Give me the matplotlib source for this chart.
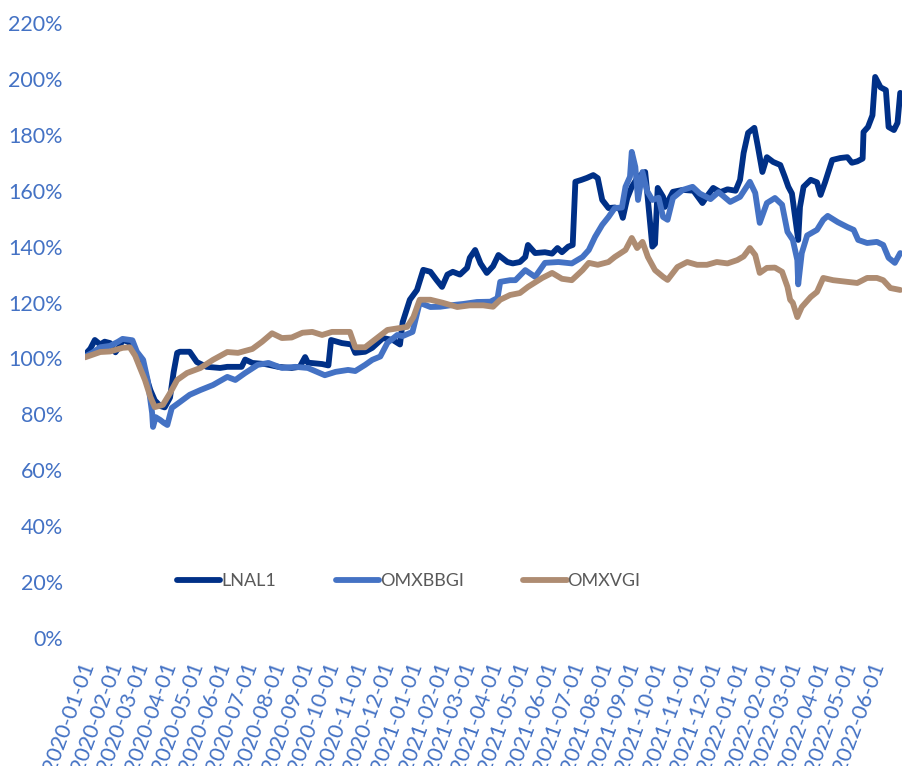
import numpy as np
import pandas as pd
import matplotlib
matplotlib.use("Agg")
import matplotlib.pyplot as plt
import matplotlib.ticker as mticker
import matplotlib.transforms as mtransforms

plt.rcParams['font.family'] = ['Lato', 'DejaVu Sans']

# Index level (start = 100%), day = days since 2020-01-01
lnal1_day = [0, 6, 11, 17, 22, 28, 34, 39, 42, 48, 54, 59, 67, 73, 78, 84, 89, 95, 99, 103,
             106, 117, 125, 136, 151, 159, 168, 175, 179, 187, 201, 216, 231, 240, 246, 249,
             265, 272, 275, 287, 298, 302, 313, 321, 333, 344, 352, 355, 363, 371, 378, 386,
             393, 399, 405, 411, 419, 427, 430, 436, 442, 449, 456, 462, 472, 478, 486, 492,
             495, 503, 514, 522, 528, 533, 540, 545, 548, 555, 561, 568, 573, 578, 585, 592,
             598, 601, 606, 611, 618, 626, 628, 632, 634, 637, 640, 646, 648, 657, 668, 680,
             690, 695, 702, 710, 718, 727, 732, 736, 741, 748, 752, 757, 762, 769, 777, 782,
             786, 790, 793, 797, 799, 803, 811, 818, 822, 827, 835, 844, 852, 857, 863, 869,
             870, 875, 880, 883, 889, 895, 898, 904, 908, 911]
lnal1 = [101.4, 103.5, 106.6, 105.0, 106.0, 105.5, 102.2, 104.5, 106.6, 106.0, 104.0, 99.5,
         95.0, 88.7, 85.0, 83.0, 82.5, 86.0, 95.0, 102.0, 102.4, 102.4, 98.7, 97.0, 96.6,
         97.0, 97.0, 97.0, 99.6, 98.4, 98.0, 97.0, 96.6, 97.0, 100.5, 98.5, 98.0, 97.5,
         106.6, 105.5, 105.0, 102.0, 102.4, 103.8, 107.3, 106.6, 105.0, 113.0, 121.0, 124.5,
         131.7, 131.0, 128.0, 125.6, 130.0, 131.0, 130.0, 132.4, 136.0, 138.8, 134.0, 130.6,
         133.0, 137.0, 134.5, 134.0, 134.5, 136.3, 140.6, 137.7, 138.0, 137.5, 139.5, 138.0,
         140.0, 140.6, 163.2, 163.9, 164.6, 165.6, 164.5, 156.7, 153.8, 154.0, 153.5, 150.3,
         157.4, 161.4, 165.0, 166.7, 160.3, 147.0, 140.0, 141.0, 161.0, 157.8, 154.2, 159.6,
         160.3, 160.0, 155.6, 158.0, 161.0, 159.5, 160.5, 160.0, 163.9, 173.5, 180.7, 182.5,
         175.7, 166.7, 172.0, 170.3, 169.2, 165.0, 161.4, 159.0, 152.0, 142.4, 154.2, 161.4,
         163.9, 163.0, 158.5, 163.0, 171.0, 171.7, 172.0, 170.0, 170.5, 171.5, 181.0, 182.8,
         187.0, 200.7, 197.0, 196.0, 182.8, 181.7, 184.3, 195.0]

omxbbgi_day = [0, 8, 17, 28, 37, 42, 53, 58, 65, 70, 75, 76, 79, 84, 88, 92, 97, 106, 117,
               129, 143, 159, 168, 179, 193, 205, 220, 235, 249, 268, 280, 294, 302, 313,
               321, 330, 338, 349, 355, 366, 374, 386, 397, 408, 423, 438, 453, 461, 464,
               475, 481, 492, 503, 514, 529, 544, 556, 563, 570, 578, 585, 592, 600, 604,
               609, 611, 615, 618, 623, 628, 634, 641, 646, 651, 657, 668, 679, 687, 699,
               708, 721, 732, 743, 749, 754, 762, 771, 779, 785, 791, 796, 797, 801, 807,
               818, 825, 830, 841, 852, 859, 864, 874, 885, 892, 898, 905, 911]
omxbbgi = [100.7, 102.0, 104.0, 104.5, 106.0, 107.0, 106.5, 102.4, 99.5, 92.3, 80.5, 75.5,
           79.0, 78.0, 77.0, 76.2, 82.3, 84.4, 87.0, 88.7, 90.5, 93.4, 92.3, 94.8, 97.7,
           98.4, 96.6, 97.0, 96.6, 94.0, 95.2, 95.9, 95.5, 97.7, 99.5, 100.7, 105.6, 108.4,
           108.0, 109.5, 119.9, 118.4, 118.5, 119.0, 119.5, 120.2, 120.3, 121.6, 127.4,
           128.0, 128.0, 131.6, 129.2, 134.2, 134.5, 134.0, 136.3, 138.8, 143.5, 147.8,
           150.6, 153.8, 154.0, 161.4, 165.0, 173.9, 168.5, 156.7, 166.7, 160.0, 156.7,
           157.5, 150.6, 149.6, 157.4, 160.3, 161.4, 159.0, 157.0, 159.5, 156.0, 157.8,
           163.2, 159.2, 148.5, 155.6, 157.4, 155.0, 145.3, 142.4, 135.2, 126.5, 137.7,
           144.0, 146.0, 149.6, 151.0, 148.8, 147.0, 146.0, 142.4, 141.3, 141.7, 140.6,
           136.0, 134.2, 137.7]

omxvgi_day = [0, 17, 28, 42, 50, 56, 61, 67, 73, 78, 87, 95, 103, 114, 129, 143, 159, 171,
              187, 198, 209, 220, 231, 243, 254, 265, 276, 287, 296, 302, 313, 321, 338,
              360, 367, 374, 386, 400, 416, 430, 445, 456, 464, 475, 486, 495, 511, 522,
              533, 544, 556, 563, 573, 585, 592, 604, 611, 617, 623, 629, 637, 646, 651,
              662, 673, 684, 695, 706, 718, 729, 736, 743, 749, 754, 762, 771, 779, 785,
              788, 791, 796, 801, 811, 818, 825, 836, 852, 863, 874, 885, 892, 900, 911]
omxvgi = [100.4, 102.3, 102.5, 103.8, 104.0, 101.0, 97.0, 92.3, 86.3, 82.6, 83.4, 87.6,
          92.3, 94.8, 96.6, 99.5, 102.3, 102.0, 103.4, 106.0, 109.0, 107.3, 107.5, 109.2,
          109.5, 108.4, 109.5, 109.5, 109.5, 104.0, 104.0, 106.0, 110.2, 111.3, 114.8,
          121.0, 121.0, 119.9, 118.4, 119.0, 119.0, 118.5, 121.0, 122.7, 123.4, 125.6,
          128.8, 130.6, 128.5, 128.0, 131.6, 134.2, 133.5, 134.5, 136.3, 138.8, 143.1,
          139.5, 141.7, 136.3, 131.6, 129.2, 128.1, 132.7, 134.5, 133.5, 133.5, 134.5,
          134.0, 135.2, 136.5, 139.5, 137.0, 130.6, 132.4, 132.5, 131.0, 125.6, 121.0,
          119.9, 114.8, 118.4, 122.0, 123.8, 128.8, 128.0, 127.4, 127.0, 128.8, 128.8,
          128.0, 125.2, 124.5]

names = ['LNAL1', 'OMXBBGI', 'OMXVGI']
colors = ['#003087', '#4472C4', '#AE8C72']

start = np.datetime64('2020-01-01')
series = [(lnal1_day, lnal1), (omxbbgi_day, omxbbgi), (omxvgi_day, omxvgi)]

fig = plt.figure(figsize=(9.02, 7.66), dpi=100)
ax = fig.add_axes([85 / 902, 1 - 638 / 766, 817 / 902, 615 / 766])

for (day, val), name, c in zip(series, names, colors):
    dates = start + np.array(day).astype('timedelta64[D]')
    ax.plot(dates, val, color=c, lw=4.2, label=name,
            solid_capstyle='round', solid_joinstyle='round')

ax.set_ylim(0, 220)
ax.set_xlim(start, start + np.timedelta64(913, 'D'))
ax.yaxis.set_major_locator(mticker.MultipleLocator(20))
ax.yaxis.set_major_formatter(mticker.FuncFormatter(lambda v, p: f'{v:.0f}%'))

months = pd.date_range('2020-01-01', '2022-06-01', freq='MS')
ax.set_xticks(months)
ax.set_xticklabels([m.strftime('%Y-%m-%d') for m in months], rotation=70,
                   ha='right', va='center', rotation_mode='anchor')

ax.tick_params(axis='y', length=0, pad=16, labelsize=15.5, labelcolor='#4472C4')
ax.tick_params(axis='x', length=0, pad=18, labelsize=15.5, labelcolor='#4472C4')
for s in ax.spines.values():
    s.set_visible(False)

# nudge the slanted date labels a little to the right
shift = mtransforms.ScaledTranslation(4 / 100, 0, fig.dpi_scale_trans)
for lbl in ax.get_xticklabels():
    lbl.set_transform(lbl.get_transform() + shift)

leg = fig.legend(loc='center left', bbox_to_anchor=(177 / 902, 1 - 581 / 766),
                 ncol=3, frameon=False, handlelength=2.4,
                 prop={'family': 'Lato', 'size': 13},
                 handletextpad=0.05, columnspacing=3.3, borderpad=0, borderaxespad=0)
for t in leg.get_texts():
    t.set_color('#595959')
for h in leg.get_lines():
    h.set_linewidth(4.2)
    h.set_solid_capstyle('round')

fig.savefig('out.png', dpi=100)
